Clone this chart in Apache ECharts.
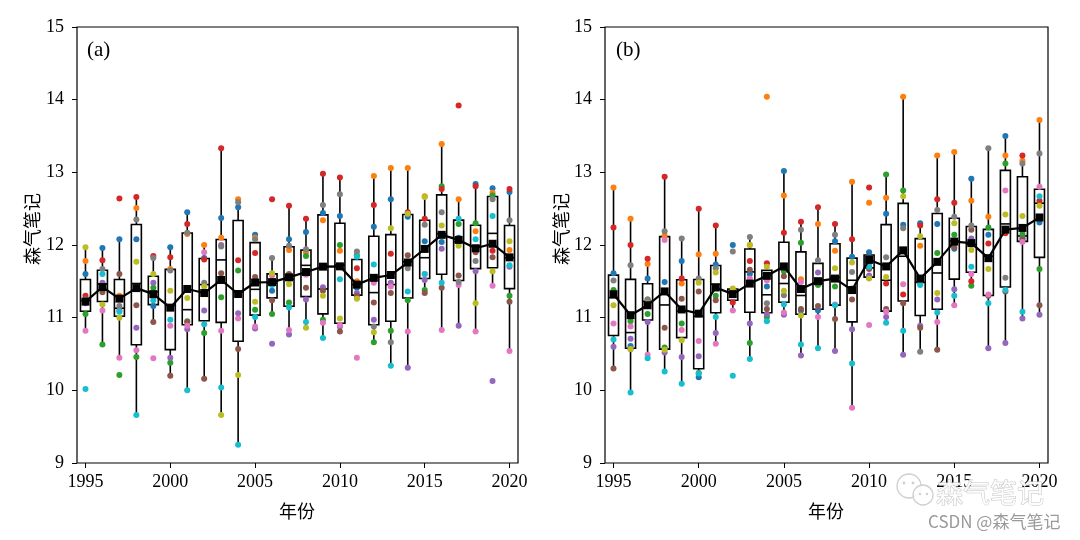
<!DOCTYPE html>
<html><head><meta charset="utf-8">
<script src="https://cdn.jsdelivr.net/npm/echarts@6/dist/echarts.min.js"></script>
<style>html,body{margin:0;padding:0;background:#fff}#c{width:1080px;height:540px}</style>
</head><body><div id="c"></div>
<script>
const years = ['1995','1996','1997','1998','1999','2000','2001','2002','2003','2004','2005','2006','2007','2008','2009','2010','2011','2012','2013','2014','2015','2016','2017','2018','2019','2020'];
const modelColors = ['#1f77b4','#ff7f0e','#2ca02c','#d62728','#9467bd','#8c564b','#e377c2','#7f7f7f','#bcbd22','#17becf'];

// Panel (a): one array per model (colour)
const aBlue   = [11.6,11.96,12.08,12.08,11.16,11.97,12.45,11.82,12.37,12.52,12.14,11.37,12.08,12.18,12.44,12.4,11.41,12.25,12.63,12.39,12.05,12.04,12.1,12.84,12.78,12.73];
const aOrange = [11.78,11.45,11.3,12.51,11.3,11.67,12.15,12.0,12.1,12.63,12.1,11.5,11.93,11.9,12.34,11.92,11.5,12.95,13.06,13.06,12.67,13.39,12.63,12.19,12.72,11.93];
const aGreen  = [11.05,10.63,10.21,10.46,11.41,10.38,10.95,10.79,11.28,11.65,11.11,11.05,11.21,11.85,10.97,12.0,11.86,10.66,10.82,11.24,11.38,12.81,12.29,12.3,12.68,11.3];
const aRed    = [11.3,11.79,12.64,12.66,11.85,11.83,12.29,11.8,13.33,11.79,11.89,12.63,12.54,12.36,12.98,12.93,11.68,12.55,11.88,12.45,12.36,12.77,13.92,12.81,11.92,12.77];
const aPurple = [11.2,11.48,11.1,10.86,11.48,10.45,10.84,11.1,12.0,11.06,10.85,10.64,10.77,11.25,11.42,10.88,11.34,10.97,11.48,10.31,11.52,11.95,10.89,11.64,10.13,11.7];
const aBrown  = [11.22,11.35,11.6,11.17,10.94,10.2,10.94,10.16,11.61,10.57,11.56,11.24,11.6,11.41,11.37,10.81,11.3,11.21,11.34,11.86,11.34,11.41,11.58,11.9,11.83,11.22];
const aPink   = [10.82,11.1,10.45,10.55,10.44,10.89,10.89,11.9,10.82,10.99,10.88,11.58,10.83,11.59,10.93,10.9,10.45,11.48,11.43,10.81,11.6,10.83,11.45,10.81,11.44,10.54];
const aGray   = [11.25,11.67,11.16,12.35,11.82,11.65,12.17,11.48,11.98,12.59,12.08,11.82,11.99,11.94,12.55,12.7,11.91,10.88,10.66,11.68,12.28,12.45,11.49,11.78,12.63,12.34];
const aOlive  = [11.97,11.18,11.0,11.77,11.6,11.37,11.27,11.43,9.66,10.21,11.22,11.61,11.46,10.86,11.3,10.99,11.26,10.8,12.23,12.43,12.66,12.27,11.99,11.2,11.64,12.05];
const aCyan   = [10.02,11.6,11.08,9.66,11.24,10.97,10.0,10.91,10.04,9.25,11.01,11.45,11.14,10.94,10.72,11.53,11.84,11.73,10.34,11.36,11.6,11.48,12.36,12.08,12.4,11.72];

// Panel (b)
const bBlue   = [11.61,10.61,11.54,11.49,11.78,10.18,11.73,12.0,11.6,11.43,13.02,11.1,11.1,12.05,11.84,11.9,12.43,12.28,12.3,12.29,11.95,12.91,12.14,13.5,12.1,12.31];
const bOrange = [12.79,12.36,11.74,12.13,11.47,11.87,11.88,11.33,12.0,14.04,12.68,11.53,12.29,11.92,12.87,12.58,12.65,14.04,11.99,13.23,13.28,12.61,12.39,13.23,13.16,13.72];
const bGreen  = [11.38,10.95,11.05,10.59,10.92,10.24,11.3,11.35,10.65,11.01,11.64,12.03,11.45,11.43,11.4,11.55,12.97,12.75,11.47,11.89,12.14,11.44,12.24,13.12,12.15,11.67];
const bRed    = [12.24,12.0,11.81,12.94,11.54,12.5,12.27,11.21,11.78,11.75,12.17,12.32,12.52,12.29,12.08,12.79,11.47,11.32,12.27,12.63,12.58,11.5,12.02,12.16,13.23,12.61];
const bPurple = [10.6,10.71,10.94,10.52,10.46,10.47,10.79,11.36,10.92,11.05,11.04,10.48,11.62,10.54,10.84,11.58,11.01,10.49,10.89,11.25,11.39,12.09,10.58,10.65,10.99,11.04];
const bBrown  = [10.3,10.57,11.25,10.86,11.26,11.36,11.24,11.38,11.66,11.12,11.57,11.12,11.16,10.98,11.25,11.67,11.12,11.2,10.86,10.56,11.97,12.21,11.3,11.36,12.08,11.17];
const bPink   = [10.92,10.88,10.49,12.07,10.83,10.68,10.64,11.1,11.54,11.51,11.07,11.49,11.01,11.18,9.76,10.9,11.08,11.46,11.5,10.94,11.17,11.6,11.32,12.75,12.04,12.8];
const bGray   = [11.51,11.72,11.25,12.19,12.09,11.54,11.68,11.91,12.11,11.2,11.31,12.21,11.79,12.14,11.63,11.75,11.83,12.23,10.53,12.48,12.39,12.27,13.33,11.55,13.12,13.26];
const bOlive  = [11.17,10.57,11.2,10.56,10.69,11.48,11.62,11.4,12.0,11.7,11.37,11.03,11.5,11.68,11.76,11.54,11.56,12.67,12.12,11.34,12.3,11.93,11.67,12.42,12.4,12.54];
const bCyan   = [10.7,9.97,10.44,10.26,10.09,10.23,11.01,10.2,10.43,10.95,11.18,10.63,10.58,11.17,10.37,11.7,10.93,10.82,11.45,11.07,11.3,11.7,11.2,11.38,11.08,12.67];

const panelA = [aBlue,aOrange,aGreen,aRed,aPurple,aBrown,aPink,aGray,aOlive,aCyan];
const panelB = [bBlue,bOrange,bGreen,bRed,bPurple,bBrown,bPink,bGray,bOlive,bCyan];

function pct(s, p){ const pos=p*(s.length-1); const lo=Math.floor(pos), hi=Math.ceil(pos); return s[lo]+(s[hi]-s[lo])*(pos-lo); }
function stats(models){
  const boxes=[], means=[];
  for(let i=0;i<years.length;i++){
    const v=models.map(m=>m[i]);
    const s=v.slice().sort((a,b)=>a-b);
    const q1=pct(s,0.25), med=pct(s,0.5), q3=pct(s,0.75), iqr=q3-q1;
    const lo=q1-1.5*iqr, hi=q3+1.5*iqr;
    const wLo=Math.min(...s.filter(x=>x>=lo)), wHi=Math.max(...s.filter(x=>x<=hi));
    boxes.push([i,wLo,q1,med,q3,wHi]);
    means.push([i, v.reduce((a,b)=>a+b,0)/v.length]);
  }
  return {boxes, means};
}

function renderBox(params, api){
  const i=api.value(0);
  const pMin=api.coord([i,api.value(1)]), pQ1=api.coord([i,api.value(2)]), pMed=api.coord([i,api.value(3)]), pQ3=api.coord([i,api.value(4)]), pMax=api.coord([i,api.value(5)]);
  const x=pMin[0], hw=5, cw=2.5;
  const st={stroke:'#000',lineWidth:1.6};
  return {type:'group',children:[
    {type:'line',shape:{x1:x,y1:pMin[1],x2:x,y2:pQ1[1]},style:st},
    {type:'line',shape:{x1:x,y1:pQ3[1],x2:x,y2:pMax[1]},style:st},
    {type:'line',shape:{x1:x-cw,y1:pMin[1],x2:x+cw,y2:pMin[1]},style:st},
    {type:'line',shape:{x1:x-cw,y1:pMax[1],x2:x+cw,y2:pMax[1]},style:st},
    {type:'rect',shape:{x:x-hw,y:pQ3[1],width:2*hw,height:pQ1[1]-pQ3[1]},style:{fill:'#fff',stroke:'#000',lineWidth:1.6}},
    {type:'line',shape:{x1:x-hw,y1:pMed[1],x2:x+hw,y2:pMed[1]},style:st}
  ]};
}

const serif='"Liberation Serif","DejaVu Serif",serif';
const cjk='"Noto Sans CJK SC","Noto Sans",sans-serif';

function xAx(g){ return {type:'category',gridIndex:g,data:years,boundaryGap:true,
  axisLine:{show:false},
  axisTick:{show:true,interval:4,alignWithLabel:true,length:5,lineStyle:{color:'#000',width:1}},
  axisLabel:{interval:4,color:'#000',fontFamily:serif,fontSize:18,margin:10},
  splitLine:{show:false}}; }
function yAx(g){ return {type:'value',gridIndex:g,min:9,max:15,interval:1,
  axisLine:{show:false},
  axisTick:{show:true,length:5,lineStyle:{color:'#000',width:1}},
  axisLabel:{color:'#000',fontFamily:serif,fontSize:18,margin:13},
  splitLine:{show:false}}; }

const series=[];
[panelA,panelB].forEach((models,g)=>{
  const st=stats(models);
  series.push({type:'custom',xAxisIndex:g,yAxisIndex:g,renderItem:renderBox,data:st.boxes,
    encode:{x:0,y:[1,2,3,4,5]},z:2,silent:true});
  models.forEach((m,k)=>{
    series.push({type:'scatter',xAxisIndex:g,yAxisIndex:g,symbol:'circle',symbolSize:6,
      itemStyle:{color:modelColors[k],opacity:1},z:3,silent:true,
      data:m.map((v,i)=>[i,v])});
  });
  series.push({type:'line',xAxisIndex:g,yAxisIndex:g,data:st.means,symbol:'rect',symbolSize:8,
    lineStyle:{color:'#000',width:2.2},itemStyle:{color:'#000'},z:5,silent:true,animation:false});
});

const chart=echarts.init(document.getElementById('c'),null,{renderer:'canvas'});
chart.setOption({
  animation:false,
  backgroundColor:'#fff',
  grid:[
    {left:77,top:27,width:441,height:436,show:true,borderColor:'#000',borderWidth:1.2,backgroundColor:'transparent'},
    {left:605,top:27,width:443,height:436,show:true,borderColor:'#000',borderWidth:1.2,backgroundColor:'transparent'}
  ],
  xAxis:[xAx(0),xAx(1)],
  yAxis:[yAx(0),yAx(1)],
  series:series,
  graphic:[
    {type:'text',left:87,top:40,style:{text:'(a)',font:'21px '+serif,fill:'#000'}},
    {type:'text',left:616,top:40,style:{text:'(b)',font:'21px '+serif,fill:'#000'}},
    {type:'text',x:32,y:229,rotation:Math.PI/2,style:{text:'森气笔记',font:'18px '+cjk,fill:'#000',align:'center',verticalAlign:'middle'}},
    {type:'text',x:561,y:229,rotation:Math.PI/2,style:{text:'森气笔记',font:'18px '+cjk,fill:'#000',align:'center',verticalAlign:'middle'}},
    {type:'text',x:297,y:511,style:{text:'年份',font:'18px '+cjk,fill:'#000',align:'center',verticalAlign:'middle'}},
    {type:'text',x:826,y:511,style:{text:'年份',font:'18px '+cjk,fill:'#000',align:'center',verticalAlign:'middle'}},
    {type:'circle',shape:{cx:909,cy:486,r:12},style:{fill:'rgba(255,255,255,0.85)',stroke:'#cfcfcf',lineWidth:1.3},z:20},
    {type:'circle',shape:{cx:923,cy:495,r:10},style:{fill:'rgba(255,255,255,0.9)',stroke:'#cfcfcf',lineWidth:1.3},z:21},
    {type:'circle',shape:{cx:904,cy:483,r:1.4},style:{fill:'#cfcfcf'},z:22},
    {type:'circle',shape:{cx:913,cy:483,r:1.4},style:{fill:'#cfcfcf'},z:22},
    {type:'circle',shape:{cx:920,cy:494,r:1.2},style:{fill:'#cfcfcf'},z:22},
    {type:'circle',shape:{cx:927,cy:494,r:1.2},style:{fill:'#cfcfcf'},z:22},
    {type:'text',x:936,y:493,style:{text:'森气笔记',font:'27px '+cjk,fill:'rgba(255,255,255,0.9)',stroke:'#c4c4c4',lineWidth:1,align:'left',verticalAlign:'middle'},z:22},
    {type:'text',x:928,y:522,style:{text:'CSDN @森气笔记',font:'17px '+cjk,fill:'#9a9a9a',align:'left',verticalAlign:'middle'},z:22}
  ]
});
</script></body></html>
